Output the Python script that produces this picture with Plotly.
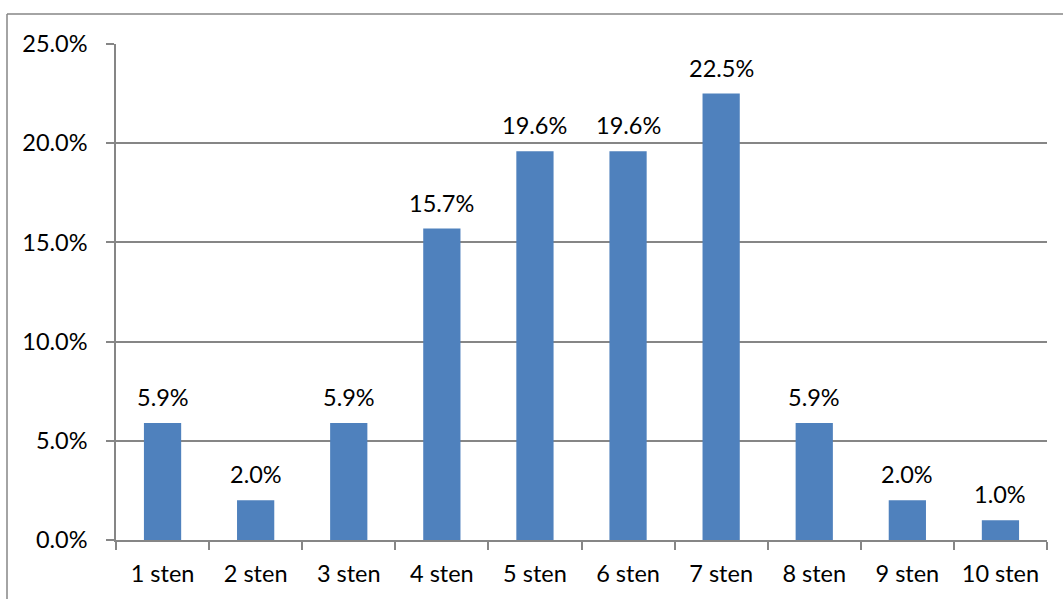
import plotly.graph_objects as go

categories = ["1 sten", "2 sten", "3 sten", "4 sten", "5 sten",
              "6 sten", "7 sten", "8 sten", "9 sten", "10 sten"]
values = [0.059, 0.020, 0.059, 0.157, 0.196, 0.196, 0.225, 0.059, 0.020, 0.010]
labels = ["5.9%", "2.0%", "5.9%", "15.7%", "19.6%", "19.6%", "22.5%", "5.9%", "2.0%", "1.0%"]

W, H = 1063, 599
L, R, T, B = 116, 16, 44, 59
pw, ph = W - L - R, H - T - B

FONT = "Lato"
FS = 23.5
GRID = "#868686"

fig = go.Figure()
fig.add_trace(go.Bar(
    x=categories, y=values,
    marker=dict(color="#4F81BD", line=dict(width=0)),
    width=0.4,
))

for c, v, t in zip(categories, values, labels):
    fig.add_annotation(x=c, y=v, text=t, showarrow=False,
                       yanchor="middle", yshift=26,
                       font=dict(family=FONT, size=FS, color="black"))

# outer frame lines (top and left)
def px(x):
    return (x - L) / pw

def py(y):
    return 1 - (y - T) / ph

fig.add_shape(type="line", xref="paper", yref="paper",
              x0=px(7), x1=px(1063), y0=py(14), y1=py(14),
              line=dict(color=GRID, width=1.5))
fig.add_shape(type="line", xref="paper", yref="paper",
              x0=px(7), x1=px(7), y0=py(14), y1=py(599),
              line=dict(color=GRID, width=1.5))

fig.update_layout(
    width=W, height=H,
    margin=dict(l=L, r=R, t=T, b=B),
    paper_bgcolor="white", plot_bgcolor="white",
    showlegend=False,
    font=dict(family=FONT, size=FS, color="black"),
    bargap=0.6,
)
fig.update_xaxes(
    type="category", tickson="boundaries",
    ticks="outside", ticklen=8, tickcolor=GRID, tickwidth=1.5,
    showline=True, linecolor=GRID, linewidth=1.5,
    showgrid=False, zeroline=False,
    tickfont=dict(family=FONT, size=FS, color="black"),
    ticklabelstandoff=12,
)
fig.update_yaxes(
    range=[0, 0.25], dtick=0.05, tickformat=".1%",
    ticks="outside", ticklen=8, tickcolor=GRID, tickwidth=1.5,
    showline=True, linecolor=GRID, linewidth=1.5,
    showgrid=True, gridcolor=GRID, gridwidth=1.5,
    zeroline=False,
    tickfont=dict(family=FONT, size=FS, color="black"),
    ticklabelstandoff=14,
)

fig.write_html("out.html")
